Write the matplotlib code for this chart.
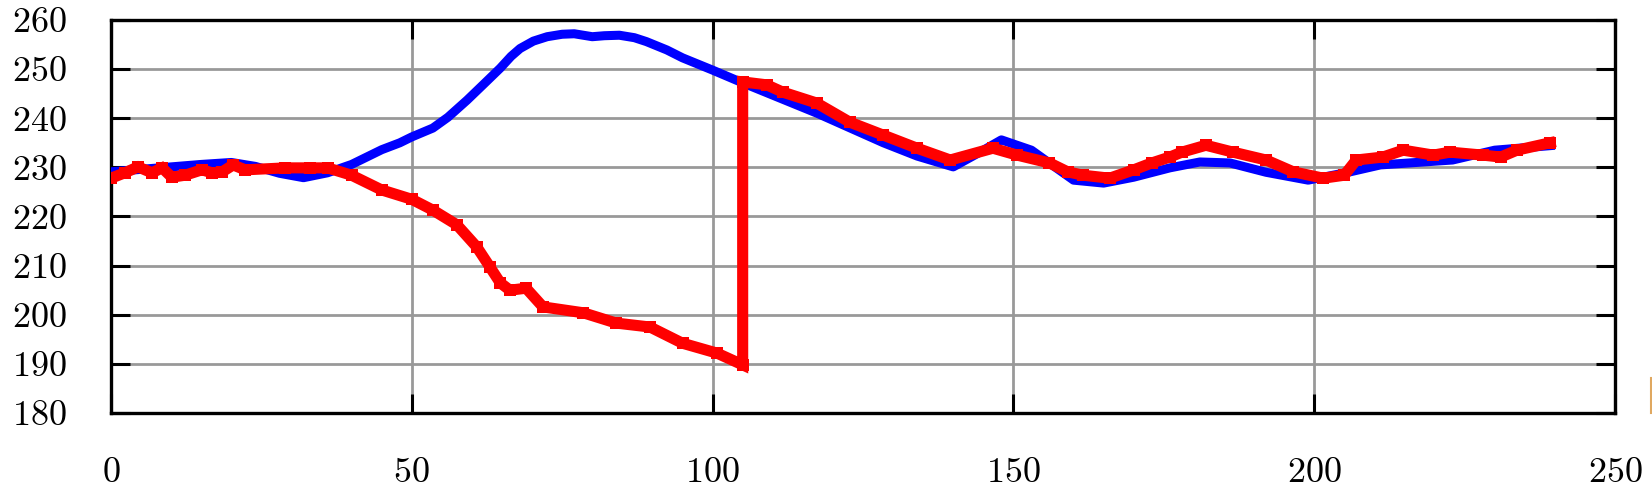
import matplotlib
matplotlib.use("Agg")
import matplotlib.pyplot as plt
from matplotlib.lines import Line2D

plt.rcParams['font.family'] = ['cmr10', 'DejaVu Serif']
plt.rcParams['axes.formatter.use_mathtext'] = True

blue_x = [0, 5, 10, 15, 20, 24, 28, 32, 36, 40, 45, 48, 50, 53.5, 56, 59.2, 62, 64.7,
          66.5, 68, 70.2, 72.5, 75, 77, 80, 82, 84.5, 87, 89, 92.4, 95, 100, 105, 117.4,
          128.4, 134, 140, 144, 148, 153, 157, 160, 165, 170, 176, 181, 186, 192, 199,
          206, 211, 217, 223, 230, 240]
blue_y = [229.1, 229.6, 230.1, 230.6, 231.0, 230.2, 228.8, 227.9, 228.9, 230.6, 233.6,
          235.0, 236.2, 238.0, 240.2, 243.7, 247.0, 250.2, 252.6, 254.2, 255.7, 256.6,
          257.1, 257.2, 256.6, 256.8, 256.9, 256.4, 255.6, 253.9, 252.3, 249.8, 247.2,
          241.0, 235.0, 232.3, 230.1, 232.8, 235.6, 233.5, 230.0, 227.4, 226.8, 228.0,
          229.9, 231.1, 230.9, 229.0, 227.4, 229.1, 230.5, 231.0, 231.5, 233.5, 234.5]

red_x = [0, 2.3, 4.5, 6.8, 8.5, 10.1, 12.3, 15.1, 16.8, 18.5, 20.3, 22.3, 29, 33, 36,
         40, 45, 50, 53.5, 57.5, 60.8, 63, 64.7, 66.3, 69, 71.8, 78.5, 84, 89.6,
         95, 100.7, 105, 105, 109, 111.7, 117.3, 122.8, 128.3, 134, 139.5, 146.6, 150.6,
         156, 159, 161.6, 166, 170, 173, 176, 178, 182, 186.5, 192, 196.5, 201.5, 205,
         207, 211.4, 214.8, 219.8, 222.6, 228, 231, 233.7, 239.2]
red_y = [227.8, 228.9, 230.1, 228.9, 229.9, 228.0, 228.4, 229.5, 228.9, 229.1, 230.5,
         229.5, 229.9, 229.9, 229.9, 228.4, 225.4, 223.5, 221.3, 218.3, 213.8, 209.7,
         206.5, 205.0, 205.4, 201.6, 200.4, 198.3, 197.5, 194.2, 192.2, 189.8, 247.4,
         246.8, 245.3, 243.1, 239.2, 236.6, 233.9, 231.5, 233.9, 232.5, 230.9, 229.1,
         228.4, 227.8, 229.5, 230.9, 232.1, 233.1, 234.5, 233.1, 231.5, 229.1, 227.8,
         228.4, 231.5, 232.1, 233.5, 232.5, 233.1, 232.5, 232.1, 233.5, 235.0]

x_ticks = [0, 50, 100, 150, 200, 250]
y_ticks = [180, 190, 200, 210, 220, 230, 240, 250, 260]

fig = plt.figure(figsize=(16.52, 4.98), dpi=100)
ax = fig.add_axes([111/1652, 1-413/498, (1615-111)/1652, (413-20)/498])

ax.plot(blue_x, blue_y, color='#0000ff', lw=6.5, solid_joinstyle='round',
        solid_capstyle='butt', zorder=3)
ax.plot(red_x, red_y, color='#ff0000', lw=8, solid_joinstyle='miter',
        marker='s', markersize=9, markeredgewidth=0, zorder=4)

ax.set_xlim(0, 250)
ax.set_ylim(180, 260)
ax.set_xticks(x_ticks)
ax.set_yticks(y_ticks)
ax.grid(True, color='#999999', lw=2.0)
ax.set_axisbelow(True)
ax.tick_params(direction='in', length=14, width=2.2, top=True, right=True,
               labelsize=26, pad=32, color='black')
for s in ax.spines.values():
    s.set_linewidth(2.4)
    s.set_color('black')

fig.add_artist(Line2D([1650.5/1652, 1650.5/1652], [1-378/498, 1-413/498],
                      transform=fig.transFigure, color='#e0a860', lw=1.5))

fig.savefig('out.png', dpi=100)
